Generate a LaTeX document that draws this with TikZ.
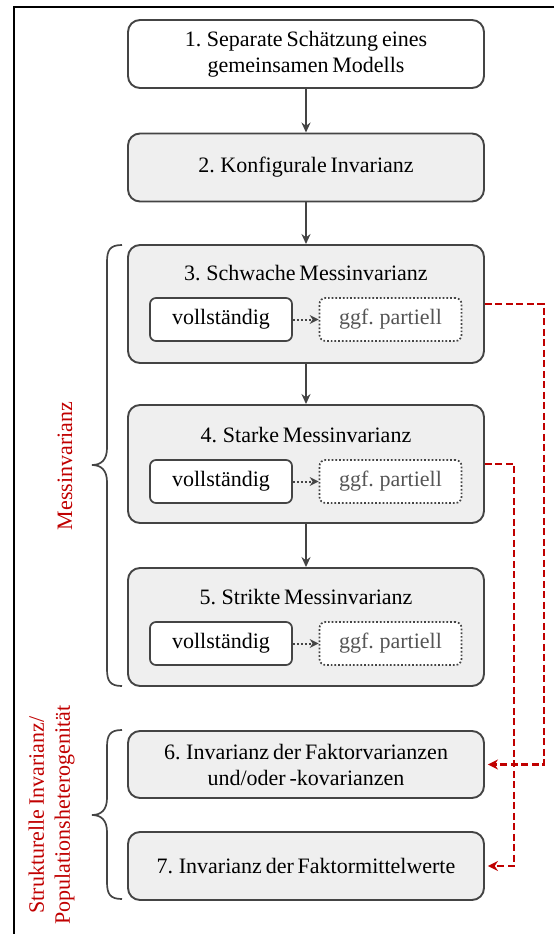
\documentclass[tikz,border=0pt]{standalone}
\usepackage{fontspec}
\setmainfont[WordSpace=0.7]{Liberation Serif}
\usetikzlibrary{arrows.meta}
\definecolor{boxgray}{HTML}{EFEFEF}
\definecolor{linegray}{HTML}{444444}
\definecolor{textgray}{HTML}{555555}
\definecolor{myred}{HTML}{C00000}
\newcommand\myfs{\fontsize{22}{26}\selectfont}
\tikzset{
  outerbox/.style={draw=linegray, line width=1.9pt, rounded corners=12pt, fill=boxgray, minimum width=356pt, inner sep=0pt, align=center, font=\myfs},
  innerbox/.style={draw=linegray, line width=1.7pt, rounded corners=6pt, fill=white, minimum width=142pt, minimum height=43pt, inner sep=0pt, font=\myfs},
  partbox/.style={innerbox, dotted, draw=linegray, text=textgray},
  titletext/.style={font=\myfs, inner sep=0pt},
  flowarrow/.style={draw=linegray, line width=1.7pt, -{Stealth[length=10pt,width=9pt]}},
  dotarrow/.style={draw=linegray, line width=2pt, dotted, -{Stealth[length=9pt,width=9pt,line width=0pt]}},
  redarrow/.style={draw=myred, line width=2.1pt, dash pattern=on 7pt off 3.5pt, -{Stealth[length=10pt,width=10pt]}, shorten >=3pt},
  bracestyle/.style={draw=linegray, line width=1.7pt},
  redlabel/.style={text=myred, font=\myfs, inner sep=0pt, rotate=90, align=center},
}
\begin{document}
\begin{tikzpicture}[x=1pt,y=-1pt]
\useasboundingbox (0,0) rectangle (554,934);
% frame
\draw[line width=2.2pt, black] (554,7) -- (14,7) -- (14,934);

% main boxes
\node[outerbox, fill=white, minimum height=68pt] (b1) at (306,54) {1. Separate Schätzung eines\\gemeinsamen Modells};
\node[outerbox, minimum height=68pt] (b2) at (306,167.5) {2. Konfigurale Invarianz};
\node[outerbox, minimum height=118pt] (b3) at (306,304) {};
\node[outerbox, minimum height=118pt] (b4) at (306,464) {};
\node[outerbox, minimum height=118pt] (b5) at (306,627) {};
\node[outerbox, minimum height=67pt] (b6) at (306,764.5) {6. Invarianz der Faktorvarianzen\\und/oder -kovarianzen};
\node[outerbox, minimum height=68pt] (b7) at (306,866) {7. Invarianz der Faktormittelwerte};

% titles
\node[titletext] (t3) at (306,273) {3. Schwache Messinvarianz};
\node[titletext] (t4) at (306,435) {4. Starke Messinvarianz};
\node[titletext] (t5) at (306,597) {5. Strikte Messinvarianz};

% inner boxes
\node[innerbox] (v3) at (221,319.5) {vollständig};
\node[partbox] (p3) at (390.5,319.5) {ggf. partiell};
\node[innerbox] (v4) at (221,481.5) {vollständig};
\node[partbox] (p4) at (390.5,481.5) {ggf. partiell};
\node[innerbox] (v5) at (221,643.5) {vollständig};
\node[partbox] (p5) at (390.5,643.5) {ggf. partiell};

\draw[dotarrow] (v3) -- (p3);
\draw[dotarrow] (v4) -- (p4);
\draw[dotarrow] (v5) -- (p5);

% flow arrows
\draw[flowarrow] (b1) -- (b2);
\draw[flowarrow] (b2) -- (b3);
\draw[flowarrow] (b3) -- (b4);
\draw[flowarrow] (b4) -- (b5);

% red dashed arrows
\coordinate (r3) at (544,304);
\coordinate (r4) at (514,464);
\draw[redarrow] (b3.east) -- (r3) |- (b6.east);
\draw[redarrow] (b4.east) -- (r4) |- (b7.east);

% braces
\draw[bracestyle] (122,245) .. controls (110,245) and (107,250) .. (107,262) -- (107,448)
  .. controls (107,460) and (101,465) .. (92,465) .. controls (101,465) and (107,470) .. (107,482)
  -- (107,669) .. controls (107,681) and (110,686) .. (122,686);
\draw[bracestyle] (122,730) .. controls (110,730) and (107,735) .. (107,747) -- (107,798)
  .. controls (107,810) and (101,815) .. (92,815) .. controls (101,815) and (107,820) .. (107,832)
  -- (107,882) .. controls (107,894) and (110,899) .. (122,899);

% labels
\node[redlabel] (l1) at (65,466) {Messinvarianz};
\node[redlabel] (l2) at (51.5,815) {Strukturelle Invarianz/\\Populationsheterogenität};
\end{tikzpicture}
\end{document}
